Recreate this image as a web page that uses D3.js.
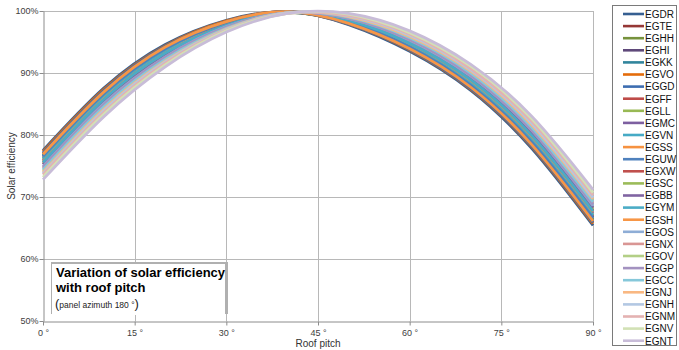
<!DOCTYPE html>
<html>
<head>
<meta charset="utf-8">
<script src="https://cdn.jsdelivr.net/npm/d3@7"></script>
<style>
  html, body { margin: 0; padding: 0; background: #fff; overflow: hidden; }
  text { font-family: "Liberation Sans", Arial, sans-serif; }
</style>
</head>
<body>
<svg width="679" height="350"></svg>
<script>
// roof pitch sample points (degrees)
var pitch = [0, 10, 20, 30, 40, 50, 60, 70, 80, 90]
var xTicks = [0, 15, 30, 45, 60, 75, 90]
var yTicks = [50, 60, 70, 80, 90, 100]

// series (airfield codes) in legend order
var stations = ["EGDR", "EGTE", "EGHH", "EGHI", "EGKK", "EGVO", "EGGD", "EGFF", "EGLL", "EGMC",
  "EGVN", "EGSS", "EGUW", "EGXW", "EGSC", "EGBB", "EGYM", "EGSH", "EGOS", "EGNX",
  "EGOV", "EGGP", "EGCC", "EGNJ", "EGNH", "EGNM", "EGNV", "EGNT"]

var colors = ["#365F91", "#953735", "#76923C", "#5F497A", "#31859C", "#E46C0A", "#3D6DB0", "#BE4B48", "#98B954", "#7D5FA0",
  "#46AAC5", "#F69240", "#4F81BD", "#C0504D", "#9BBB59", "#8064A2", "#4BACC6", "#F79646", "#8EADD6", "#D99694",
  "#B3CF86", "#A392C0", "#86C8DA", "#F9B882", "#B3C8E3", "#E4B2B1", "#D2E1B5", "#C8BCD8"]

// efficiency (%) at each pitch value, one array per station
var EGDR = [77.5, 87.6, 94.6, 98.5, 99.9, 97.8, 93.5, 87.2, 77.8, 65.4]
var EGTE = [77.0, 87.1, 94.2, 98.3, 99.9, 98.0, 93.8, 87.6, 78.3, 66.0]
var EGHH = [76.7, 86.8, 94.0, 98.2, 99.8, 98.1, 94.1, 88.0, 78.7, 66.4]
var EGHI = [76.5, 86.6, 93.8, 98.1, 99.8, 98.2, 94.2, 88.1, 78.9, 66.7]
var EGKK = [76.8, 86.9, 94.1, 98.2, 99.9, 98.1, 94.0, 87.8, 78.5, 66.2]
var EGVO = [77.3, 87.4, 94.4, 98.4, 99.9, 97.9, 93.7, 87.4, 78.1, 65.7]
var EGGD = [77.1, 87.2, 94.3, 98.3, 99.9, 97.9, 93.8, 87.5, 78.2, 65.9]
var EGFF = [76.3, 86.5, 93.7, 98.0, 99.8, 98.3, 94.3, 88.3, 79.1, 66.9]
var EGLL = [76.1, 86.2, 93.5, 97.9, 99.8, 98.3, 94.5, 88.5, 79.4, 67.1]
var EGMC = [75.9, 86.0, 93.4, 97.9, 99.8, 98.4, 94.6, 88.6, 79.6, 67.4]
var EGVN = [76.2, 86.3, 93.6, 98.0, 99.8, 98.3, 94.4, 88.4, 79.3, 67.0]
var EGSS = [75.7, 85.9, 93.2, 97.8, 99.8, 98.5, 94.8, 88.8, 79.8, 67.6]
var EGUW = [76.6, 86.7, 93.9, 98.1, 99.8, 98.2, 94.2, 88.0, 78.8, 66.6]
var EGXW = [75.5, 85.7, 93.1, 97.7, 99.8, 98.6, 94.9, 89.0, 80.0, 67.8]
var EGSC = [75.3, 85.5, 92.9, 97.6, 99.8, 98.6, 95.0, 89.1, 80.2, 68.1]
var EGBB = [75.2, 85.3, 92.8, 97.6, 99.8, 98.7, 95.2, 89.3, 80.4, 68.3]
var EGYM = [75.6, 85.8, 93.2, 97.7, 99.8, 98.5, 94.8, 88.9, 79.9, 67.7]
var EGSH = [76.9, 87.0, 94.2, 98.3, 99.9, 98.0, 93.9, 87.7, 78.4, 66.1]
var EGOS = [74.9, 85.1, 92.6, 97.5, 99.7, 98.8, 95.3, 89.5, 80.7, 68.6]
var EGNX = [74.6, 84.7, 92.4, 97.3, 99.7, 98.9, 95.5, 89.8, 81.0, 69.0]
var EGOV = [74.2, 84.4, 92.1, 97.2, 99.7, 99.1, 95.8, 90.1, 81.4, 69.5]
var EGGP = [74.8, 84.9, 92.5, 97.4, 99.7, 98.8, 95.4, 89.6, 80.8, 68.8]
var EGCC = [74.4, 84.6, 92.2, 97.2, 99.7, 99.0, 95.7, 90.0, 81.2, 69.2]
var EGNJ = [74.0, 84.2, 91.9, 97.1, 99.7, 99.1, 95.9, 90.3, 81.6, 69.7]
var EGNH = [73.8, 84.0, 91.8, 97.0, 99.7, 99.2, 96.1, 90.5, 81.9, 69.9]
var EGNM = [73.6, 83.7, 91.6, 96.9, 99.6, 99.3, 96.3, 90.7, 82.2, 70.3]
var EGNV = [73.2, 83.4, 91.3, 96.8, 99.6, 99.5, 96.5, 91.1, 82.6, 70.7]
var EGNT = [72.8, 83.0, 91.0, 96.6, 99.6, 99.6, 96.8, 91.4, 83.0, 71.2]

var values = [EGDR, EGTE, EGHH, EGHI, EGKK, EGVO, EGGD, EGFF, EGLL, EGMC,
  EGVN, EGSS, EGUW, EGXW, EGSC, EGBB, EGYM, EGSH, EGOS, EGNX,
  EGOV, EGGP, EGCC, EGNJ, EGNH, EGNM, EGNV, EGNT]

var svg = d3.select("svg")
var plotL = 43, plotR = 593, plotT = 11, plotB = 321

var x = d3.scaleLinear().domain([0, 90]).range([plotL, plotR])
var y = d3.scaleLinear().domain([50, 100]).range([plotB, plotT])

// gridlines
svg.append("g").selectAll("line").data(yTicks.slice(1)).join("line")
    .attr("x1", plotL).attr("x2", plotR)
    .attr("y1", d => Math.round(y(d)) + 0.5).attr("y2", d => Math.round(y(d)) + 0.5)
    .attr("stroke", "#b8b8b8")
svg.append("g").selectAll("line").data(xTicks.slice(1)).join("line")
    .attr("x1", d => Math.round(x(d)) + 0.5).attr("x2", d => Math.round(x(d)) + 0.5)
    .attr("y1", plotT).attr("y2", plotB)
    .attr("stroke", "#b8b8b8")

// axes
var yAxis = svg.append("g").attr("transform", "translate(" + (plotL + 0.5) + ",0)")
    .call(d3.axisLeft(y).tickValues(yTicks).tickFormat(d => d + "%").tickSize(4).tickSizeOuter(0))
var xAxis = svg.append("g").attr("transform", "translate(0," + (plotB + 0.5) + ")")
    .call(d3.axisBottom(x).tickValues(xTicks).tickFormat(d => d + " °").tickSize(4).tickSizeOuter(0))
svg.selectAll(".domain, .tick line").attr("stroke", "#8c8c8c")
svg.selectAll(".tick text").attr("fill", "#404040").style("font-size", "9px")
yAxis.selectAll(".tick text").attr("x", -5)
xAxis.selectAll(".tick text").attr("y", 8)

// curves
var line = d3.line()
    .x((d, i) => x(pitch[i]))
    .y(d => y(d))
    .curve(d3.curveNatural)

svg.append("g").selectAll("path").data(values).join("path")
    .attr("d", line)
    .attr("fill", "none")
    .attr("stroke", (d, i) => colors[i])
    .attr("stroke-width", 2.8)

// axis titles
svg.append("text").text("Roof pitch")
    .attr("x", (plotL + plotR) / 2).attr("y", 347)
    .attr("text-anchor", "middle").attr("fill", "#333").style("font-size", "10px")
svg.append("text").text("Solar efficiency")
    .attr("transform", "translate(15," + ((plotT + plotB) / 2) + ") rotate(-90)")
    .attr("text-anchor", "middle").attr("fill", "#333").style("font-size", "10px")

// title box
var tb = svg.append("g")
tb.append("rect").attr("x", 51).attr("y", 262).attr("width", 177).attr("height", 52).attr("fill", "#b0b0b0")
tb.append("rect").attr("x", 52).attr("y", 264).attr("width", 173).attr("height", 51).attr("fill", "#fff")
tb.append("text").text("Variation of solar efficiency")
    .attr("x", 56).attr("y", 277).attr("fill", "#000")
    .style("font-size", "13px").style("font-weight", "bold")
tb.append("text").text("with roof pitch")
    .attr("x", 56).attr("y", 292).attr("fill", "#000")
    .style("font-size", "13px").style("font-weight", "bold")
var sub = tb.append("text").attr("x", 55).attr("y", 308).attr("fill", "#222")
sub.append("tspan").text("(").style("font-size", "13px")
sub.append("tspan").text("panel azimuth  180 °").style("font-size", "8.5px")
sub.append("tspan").text(")").style("font-size", "13px")

// legend
var lg = svg.append("g")
lg.append("rect").attr("x", 612.5).attr("y", 5.5).attr("width", 64).attr("height", 340)
    .attr("fill", "#fff").attr("stroke", "#7a7a7a")
var item = lg.selectAll("g").data(stations).join("g")
    .attr("transform", (d, i) => "translate(0," + (14 + i * 12.1) + ")")
item.append("line").attr("x1", 623).attr("x2", 644).attr("y1", 0).attr("y2", 0)
    .attr("stroke", (d, i) => colors[i]).attr("stroke-width", 2.6)
item.append("text").text(d => d).attr("x", 645).attr("y", 3.8)
    .attr("fill", "#111").style("font-size", "10px")
</script>
</body>
</html>
